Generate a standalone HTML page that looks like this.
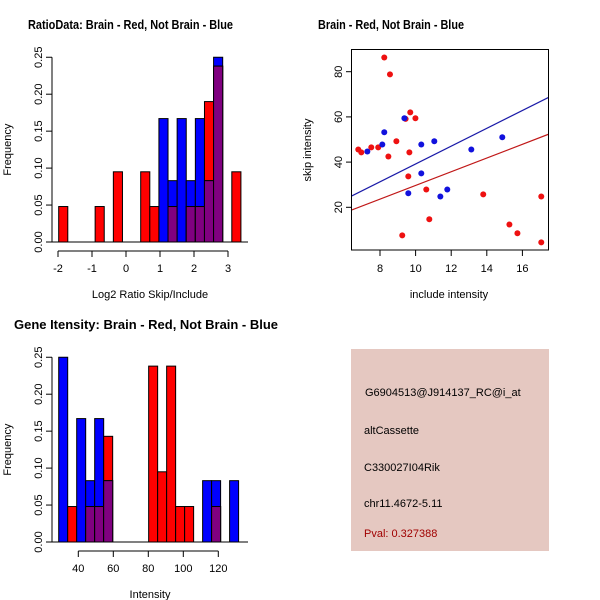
<!DOCTYPE html>
<html><head><meta charset="utf-8"><style>
html,body{margin:0;padding:0;background:#fff}
svg{display:block;font-family:"Liberation Sans",sans-serif}
</style></head><body>
<svg id="c" width="600" height="600" xmlns="http://www.w3.org/2000/svg">
<rect width="600" height="600" fill="#fff"/>
<text x="28" y="29" font-size="13" font-weight="bold" textLength="205" lengthAdjust="spacingAndGlyphs">RatioData: Brain - Red, Not Brain - Blue</text>
<text x="318" y="29" font-size="13" font-weight="bold" textLength="146" lengthAdjust="spacingAndGlyphs">Brain - Red, Not Brain - Blue</text>
<text x="14" y="329" font-size="13" font-weight="bold" textLength="264" lengthAdjust="spacingAndGlyphs">Gene Itensity: Brain - Red, Not Brain - Blue</text>
<g>
<rect x="351" y="349" width="198" height="202" fill="#e5c8c1"/>
<text x="365" y="396" font-size="11">G6904513@J914137_RC@i_at</text>
<text x="364" y="434" font-size="11">altCassette</text>
<text x="364" y="471" font-size="11">C330027I04Rik</text>
<text x="364" y="507" font-size="11">chr11.4672-5.11</text>
<text x="364" y="537" font-size="11" fill="#a00000">Pval: 0.327388</text>
</g>
<g id="g1"></g><g id="g2"></g><g id="g3"></g>
</svg>
<script>
// Ratio histogram data
const ratioStart = -1.98, ratioWidth = 0.268;
const ratioRed  = [0.048,0,0,0,0.048,0,0.095,0,0,0.095,0.048,0,0.048,0,0.048,0.048,0.19,0.238,0,0.095];
const ratioBlue = [0,0,0,0,0,0,0,0,0,0,0,0.167,0.083,0.167,0.083,0.167,0.083,0.25,0,0];
const ratioXTicks = [-2,-1,0,1,2,3];
const freqTicks = ["0.00","0.05","0.10","0.15","0.20","0.25"];
// Intensity histogram data
const intStart = 28.8, intWidth = 5.14;
const intRed  = [0,0.048,0,0.048,0.048,0.143,0,0,0,0,0.238,0.095,0.238,0.048,0.048,0,0,0.048,0,0];
const intBlue = [0.25,0,0.167,0.083,0.167,0.083,0,0,0,0,0,0,0,0,0,0,0.083,0.083,0,0.083];
const intXTicks = [40,60,80,100,120];
// Scatter data
const redX = [6.78,6.95,7.51,7.9,8.24,8.56,8.47,8.92,9.44,9.70,9.99,9.65,9.59,9.25,10.6,10.77,13.8,15.27,15.72,17.06,17.06];
const redY = [45.6,44.3,46.5,46.5,86.3,78.8,42.5,49.2,59.1,62,59.4,44.3,33.7,7.6,27.9,14.7,25.7,12.4,8.5,24.8,4.5];
const blueX = [7.29,8.13,8.24,9.37,9.59,10.32,10.32,11.05,11.39,11.78,13.13,14.87];
const blueY = [44.7,47.8,53.2,59.4,26.2,47.8,35,49.2,24.8,27.9,45.6,51];
const blueLine = [[6.41,25],[17.46,68.6]];
const redLine = [[6.41,18.8],[17.46,52.3]];
const scatXTicks = [8,10,12,14,16];
const scatYTicks = [20,40,60,80];

const NS="http://www.w3.org/2000/svg";
function el(parent,tag,attrs,txt){const e=document.createElementNS(NS,tag);for(const k in attrs)e.setAttribute(k,attrs[k]);if(txt!==undefined)e.textContent=txt;parent.appendChild(e);return e;}

function hist(g,start,width,red,blue,xticks,xmap,ymap,xlab,base,tickY,axisLeft){
  for(let i=0;i<red.length;i++){
    const x0=xmap(start+i*width),x1=xmap(start+(i+1)*width);
    const r=red[i],b=blue[i];
    const bars=[[r,'#ff0000','red'],[b,'#0000ff','blue']].filter(d=>d[0]>0).sort((a,c)=>c[0]-a[0]);
    for(const d of bars){
      const rc=el(g,'rect',{x:x0,y:ymap(d[0]),width:x1-x0,height:base-ymap(d[0]),fill:d[1],stroke:'#000','stroke-width':1});
      
      
    }
    if(r>0&&b>0){const m=Math.min(r,b);
      const rc=el(g,'rect',{x:x0,y:ymap(m),width:x1-x0,height:base-ymap(m),fill:'#800080',stroke:'#000','stroke-width':1});
      
      
    }
  }
  el(g,'line',{x1:axisLeft,x2:248,y1:base,y2:base,stroke:'#000'});
  el(g,'line',{x1:xmap(xticks[0]),x2:xmap(xticks[xticks.length-1]),y1:tickY,y2:tickY,stroke:'#000'});
  xticks.forEach(t=>{const x=xmap(t);el(g,'line',{x1:x,x2:x,y1:tickY,y2:tickY+6,stroke:'#000'});
    const tx=el(g,'text',{x:x,y:tickY+21,'font-size':11,'text-anchor':'middle'},String(t));
    });
  el(g,'line',{x1:axisLeft,x2:axisLeft,y1:ymap(0),y2:ymap(0.25),stroke:'#000'});
  freqTicks.forEach(t=>{const y=ymap(+t);el(g,'line',{x1:axisLeft,x2:axisLeft-6,y1:y,y2:y,stroke:'#000'});
    const tx=el(g,'text',{x:0,y:0,'font-size':11,'text-anchor':'middle',transform:`translate(${axisLeft-10},${y}) rotate(-90)`},t);
    });
  const yl=el(g,'text',{x:0,y:0,'font-size':11,'text-anchor':'middle',transform:`translate(11,${(ymap(0)+ymap(0.25))/2}) rotate(-90)`},'Frequency');
  
  const xl=el(g,'text',{x:150,y:tickY+47,'font-size':11,'text-anchor':'middle'},xlab);
  
}
const g1=document.getElementById('g1');

hist(g1,ratioStart,ratioWidth,ratioRed,ratioBlue,ratioXTicks,v=>58+(v+2)*34,f=>242-f*739,'Log2 Ratio Skip/Include',242,251,52);
const g3=document.getElementById('g3');

hist(g3,intStart,intWidth,intRed,intBlue,intXTicks,v=>78.3+(v-40)*1.75,f=>542-f*739,'Intensity',542,551,52);

const g2=document.getElementById('g2');

const sx=v=>380+(v-8)*17.8, sy=v=>71.7-(v-80)*2.26;
el(g2,'rect',{x:351.5,y:49.5,width:197,height:200.5,fill:'none',stroke:'#000'});
const clip=el(g2,'clipPath',{id:'sc'});el(clip,'rect',{x:352,y:50,width:196,height:200});
[[blueLine,'#1a1aa8','fit-line-blue'],[redLine,'#c01818','fit-line-red']].forEach(d=>{
  const ln=el(g2,'line',{x1:sx(d[0][0][0]),y1:sy(d[0][0][1]),x2:sx(d[0][1][0]),y2:sy(d[0][1][1]),stroke:d[1],'stroke-width':1.2,'clip-path':'url(#sc)'});
  });
redX.forEach((x,i)=>{const c=el(g2,'circle',{cx:sx(x),cy:sy(redY[i]),r:3,fill:'#ee1111'});
  });
blueX.forEach((x,i)=>{const c=el(g2,'circle',{cx:sx(x),cy:sy(blueY[i]),r:3,fill:'#1111dd'});
  });
scatXTicks.forEach(t=>{const x=sx(t);el(g2,'line',{x1:x,x2:x,y1:250,y2:256,stroke:'#000'});
  const tx=el(g2,'text',{x:x,y:272,'font-size':11,'text-anchor':'middle'},String(t));
  });
scatYTicks.forEach(t=>{const y=sy(t);el(g2,'line',{x1:352,x2:346,y1:y,y2:y,stroke:'#000'});
  const tx=el(g2,'text',{x:0,y:0,'font-size':11,'text-anchor':'middle',transform:`translate(342,${y}) rotate(-90)`},String(t));
  });
const sxl=el(g2,'text',{x:449,y:298,'font-size':11,'text-anchor':'middle'},'include intensity');

const syl=el(g2,'text',{x:0,y:0,'font-size':11,'text-anchor':'middle',transform:'translate(311,150) rotate(-90)'},'skip intensity');

</script>
</body></html>
